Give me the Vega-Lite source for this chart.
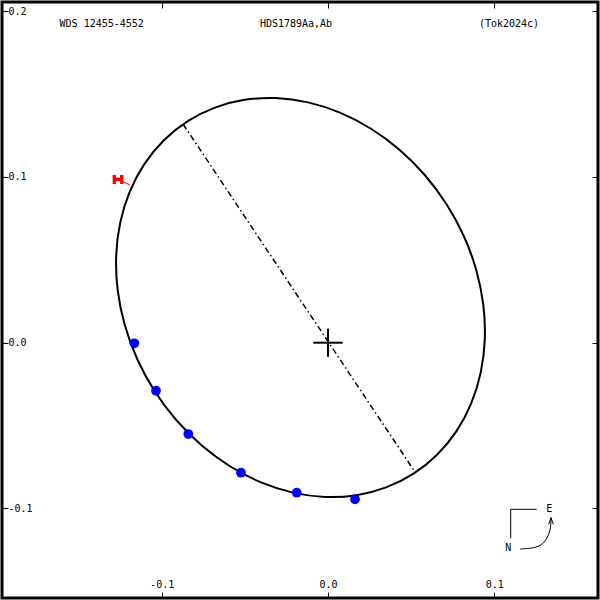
{
  "$schema": "https://vega.github.io/schema/vega-lite/v6.json",
  "width": 596,
  "height": 596,
  "autosize": "none",
  "padding": 2,
  "background": "white",
  "config": {
    "view": {"stroke": "black", "strokeWidth": 3},
    "font": "DejaVu Sans Mono",
    "text": {"font": "DejaVu Sans Mono", "fontSize": 10, "color": "black"},
    "axis": {
      "labelFont": "DejaVu Sans Mono",
      "labelFontSize": 10,
      "labelColor": "black",
      "tickColor": "black",
      "tickWidth": 1,
      "domain": false,
      "grid": false,
      "title": null,
      "labelFlush": false,
      "labelOverlap": false,
      "labelBound": false
    }
  },
  "datasets": {
    "ell": [
      {"i": 0, "x": 0.05122, "y": -0.07917},
      {"i": 1, "x": 0.03494, "y": -0.08733},
      {"i": 2, "x": 0.01709, "y": -0.09201},
      {"i": 3, "x": -0.00177, "y": -0.09307},
      {"i": 4, "x": -0.02108, "y": -0.09047},
      {"i": 5, "x": -0.04025, "y": -0.08429},
      {"i": 6, "x": -0.05871, "y": -0.07472},
      {"i": 7, "x": -0.07588, "y": -0.06204},
      {"i": 8, "x": -0.09126, "y": -0.04666},
      {"i": 9, "x": -0.10436, "y": -0.02903},
      {"i": 10, "x": -0.11480, "y": -0.00968},
      {"i": 11, "x": -0.12224, "y": 0.01078},
      {"i": 12, "x": -0.12647, "y": 0.03174},
      {"i": 13, "x": -0.12737, "y": 0.05257},
      {"i": 14, "x": -0.12490, "y": 0.07263},
      {"i": 15, "x": -0.11913, "y": 0.09131},
      {"i": 16, "x": -0.11025, "y": 0.10805},
      {"i": 17, "x": -0.09852, "y": 0.12233},
      {"i": 18, "x": -0.08430, "y": 0.13373},
      {"i": 19, "x": -0.06802, "y": 0.14189},
      {"i": 20, "x": -0.05017, "y": 0.14657},
      {"i": 21, "x": -0.03131, "y": 0.14763},
      {"i": 22, "x": -0.01200, "y": 0.14503},
      {"i": 23, "x": 0.00717, "y": 0.13885},
      {"i": 24, "x": 0.02563, "y": 0.12928},
      {"i": 25, "x": 0.04280, "y": 0.11660},
      {"i": 26, "x": 0.05818, "y": 0.10122},
      {"i": 27, "x": 0.07128, "y": 0.08359},
      {"i": 28, "x": 0.08172, "y": 0.06424},
      {"i": 29, "x": 0.08916, "y": 0.04378},
      {"i": 30, "x": 0.09339, "y": 0.02282},
      {"i": 31, "x": 0.09429, "y": 0.00199},
      {"i": 32, "x": 0.09182, "y": -0.01807},
      {"i": 33, "x": 0.08605, "y": -0.03675},
      {"i": 34, "x": 0.07717, "y": -0.05349},
      {"i": 35, "x": 0.06544, "y": -0.06777}
    ],
    "apsides": [
      {"i": 0, "x": -0.08719, "y": 0.13199},
      {"i": 1, "x": 0.05232, "y": -0.07803}
    ],
    "cross": [
      {"x": -0.0088, "x2": 0.0088, "y": 0, "y2": 0},
      {"x": 0, "x2": 0, "y": -0.0085, "y2": 0.0085}
    ],
    "obs": [
      {"x": -0.11648, "y": -0.00036},
      {"x": -0.10343, "y": -0.02897},
      {"x": -0.08400, "y": -0.05510},
      {"x": -0.05232, "y": -0.07846},
      {"x": -0.01882, "y": -0.09053},
      {"x": 0.01624, "y": -0.09451}
    ],
    "redbar": [
      {"x": -0.12850, "x2": -0.12405, "y": 0.09861, "y2": 0.09861},
      {"x": -0.12850, "x2": -0.12850, "y": 0.10121, "y2": 0.09578},
      {"x": -0.12405, "x2": -0.12405, "y": 0.10121, "y2": 0.09578}
    ],
    "redoc": [
      {"x": -0.12628, "x2": -0.11906, "y": 0.09861, "y2": 0.09517}
    ],
    "compass": [
      {"seg": "L", "i": 0, "x": 0.12550, "y": -0.10054},
      {"seg": "L", "i": 1, "x": 0.10986, "y": -0.10054},
      {"seg": "L", "i": 2, "x": 0.10986, "y": -0.11804},
      {"seg": "head", "i": 0, "x": 0.13271, "y": -0.10960},
      {"seg": "head", "i": 1, "x": 0.13409, "y": -0.10561},
      {"seg": "head", "i": 2, "x": 0.13548, "y": -0.10960}
    ],
    "arc": [
      {"i": 0, "x": 0.11545, "y": -0.12450},
      {"i": 1, "x": 0.12345, "y": -0.12372},
      {"i": 2, "x": 0.12850, "y": -0.12167},
      {"i": 3, "x": 0.13151, "y": -0.11805},
      {"i": 4, "x": 0.13349, "y": -0.11305},
      {"i": 5, "x": 0.13409, "y": -0.10761},
      {"i": 6, "x": 0.13409, "y": -0.10561}
    ],
    "labels": [
      {"x": -0.13608, "y": 0.19216, "t": "WDS 12455-4552"},
      {"x": -0.01924, "y": 0.19216, "t": "HDS1789Aa,Ab"},
      {"x": 0.10884, "y": 0.19216, "t": "(Tok2024c)"},
      {"x": 0.13307, "y": -0.10054, "t": "E"},
      {"x": 0.10842, "y": -0.12408, "t": "N"}
    ]
  },
  "resolve": {"axis": {"x": "independent", "y": "independent"}},
  "layer": [
    {
      "data": {"name": "ell"},
      "mark": {"type": "line", "color": "black", "strokeWidth": 2, "interpolate": "cardinal-closed"},
      "encoding": {
        "x": {"field": "x", "type": "quantitative", "scale": {"domain": [-0.19603, 0.16236], "nice": false, "zero": false},
          "axis": {"orient": "bottom", "values": [-0.1, 0, 0.1], "tickSize": -6, "labelPadding": -13, "labelAlign": "center", "labelBaseline": "top",
            "labelExpr": "datum.value < 0 ? '-' + format(-datum.value, '.1f') : format(datum.value, '.1f')"}},
        "y": {"field": "y", "type": "quantitative", "scale": {"domain": [-0.15407, 0.20561], "nice": false, "zero": false},
          "axis": {"orient": "left", "values": [-0.1, 0, 0.1, 0.2], "tickSize": -6, "labelPadding": 0, "labelAlign": "left", "labelBaseline": "middle",
            "labelExpr": "datum.value < 0 ? '-' + format(-datum.value, '.1f') : format(datum.value, '.1f')"}},
        "order": {"field": "i", "type": "quantitative"}
      }
    },
    {
      "data": {"name": "apsides"},
      "mark": {"type": "line", "color": "black", "strokeWidth": 1.5, "strokeDash": [6, 3, 1.5, 3]},
      "encoding": {
        "x": {"field": "x", "type": "quantitative", "axis": null},
        "y": {"field": "y", "type": "quantitative", "axis": null},
        "order": {"field": "i", "type": "quantitative"}
      }
    },
    {
      "data": {"name": "cross"},
      "mark": {"type": "rule", "color": "black", "strokeWidth": 2},
      "encoding": {
        "x": {"field": "x", "type": "quantitative", "axis": null},
        "x2": {"field": "x2"},
        "y": {"field": "y", "type": "quantitative", "axis": null},
        "y2": {"field": "y2"}
      }
    },
    {
      "data": {"name": "obs"},
      "mark": {"type": "circle", "color": "#0000ff", "opacity": 1, "size": 95},
      "encoding": {
        "x": {"field": "x", "type": "quantitative", "axis": {"orient": "top", "values": [-0.1, 0, 0.1], "tickSize": -6, "labels": false}},
        "y": {"field": "y", "type": "quantitative", "axis": {"orient": "right", "values": [-0.1, 0, 0.1, 0.2], "tickSize": -6, "labels": false}}
      }
    },
    {
      "data": {"name": "redoc"},
      "mark": {"type": "rule", "color": "#ff0000", "strokeWidth": 1},
      "encoding": {
        "x": {"field": "x", "type": "quantitative", "axis": null},
        "x2": {"field": "x2"},
        "y": {"field": "y", "type": "quantitative", "axis": null},
        "y2": {"field": "y2"}
      }
    },
    {
      "data": {"name": "redbar"},
      "mark": {"type": "rule", "color": "#ff0000", "strokeWidth": 3.3, "strokeCap": "butt"},
      "encoding": {
        "x": {"field": "x", "type": "quantitative", "axis": null},
        "x2": {"field": "x2"},
        "y": {"field": "y", "type": "quantitative", "axis": null},
        "y2": {"field": "y2"}
      }
    },
    {
      "data": {"name": "compass"},
      "mark": {"type": "line", "color": "black", "strokeWidth": 1},
      "encoding": {
        "x": {"field": "x", "type": "quantitative", "axis": null},
        "y": {"field": "y", "type": "quantitative", "axis": null},
        "detail": {"field": "seg", "type": "nominal"},
        "order": {"field": "i", "type": "quantitative"}
      }
    },
    {
      "data": {"name": "arc"},
      "mark": {"type": "line", "color": "black", "strokeWidth": 1, "interpolate": "cardinal"},
      "encoding": {
        "x": {"field": "x", "type": "quantitative", "axis": null},
        "y": {"field": "y", "type": "quantitative", "axis": null},
        "order": {"field": "i", "type": "quantitative"}
      }
    },
    {
      "data": {"name": "labels"},
      "mark": {"type": "text", "font": "DejaVu Sans Mono", "fontSize": 10, "color": "black", "align": "center", "baseline": "middle"},
      "encoding": {
        "x": {"field": "x", "type": "quantitative", "axis": null},
        "y": {"field": "y", "type": "quantitative", "axis": null},
        "text": {"field": "t", "type": "nominal"}
      }
    }
  ]
}
